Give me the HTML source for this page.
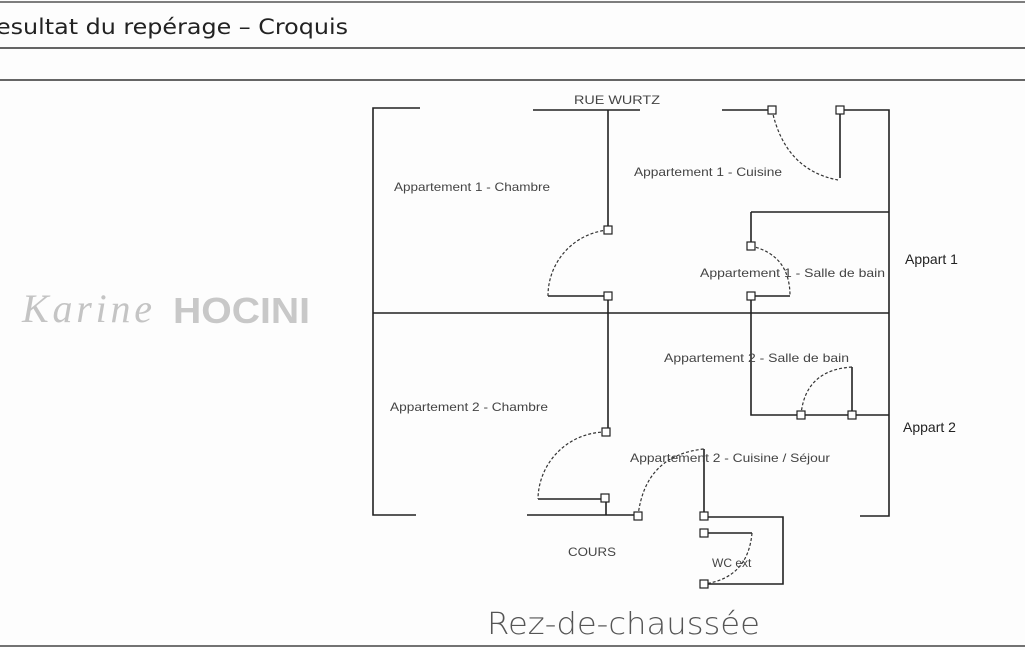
<!DOCTYPE html>
<html><head><meta charset="utf-8"><style>
html,body{margin:0;padding:0;background:#fff;}
svg{display:block;}
</style></head><body>
<svg width="1025" height="650" viewBox="0 0 1025 650" xmlns="http://www.w3.org/2000/svg" font-family="Liberation Sans, sans-serif">
<rect width="1025" height="650" fill="#fdfdfd"/>
<line x1="0" y1="2" x2="1025" y2="2" stroke="#555" stroke-width="1.5"/>
<text x="-4" y="34" font-family="DejaVu Sans, sans-serif" font-size="21" fill="#222" textLength="352" lengthAdjust="spacingAndGlyphs">esultat du repérage – Croquis</text>
<line x1="0" y1="48" x2="1025" y2="48" stroke="#333" stroke-width="1.5"/>
<line x1="0" y1="80" x2="1025" y2="80" stroke="#333" stroke-width="1.5"/>
<line x1="0" y1="646" x2="1025" y2="646" stroke="#444" stroke-width="1.5"/>
<text x="22" y="322" font-family="Liberation Serif, serif" font-style="italic" font-size="40" fill="#c4c4c4" textLength="130">Karine</text>
<text x="173" y="323" font-size="36" font-weight="bold" fill="#c8c8c8" textLength="137" lengthAdjust="spacingAndGlyphs">HOCINI</text>
<g stroke="#222" stroke-width="1.6" fill="none">
<path d="M420 108H373V515H416"/>
<path d="M533 110H640"/>
<path d="M608 110V230"/>
<path d="M722 110H770"/>
<path d="M840 110H889V516H860"/>
<path d="M840 110V178"/>
<path d="M373 313H889"/>
<path d="M751 212H889"/>
<path d="M751 212V245"/>
<path d="M751 296H790"/>
<path d="M548 296H608"/>
<path d="M608 296V432"/>
<path d="M751 296V415H889"/>
<path d="M852 367V415"/>
<path d="M538 499H606V515"/>
<path d="M527 515H638"/>
<path d="M704 449V517H783V584H704"/>
<path d="M704 533H752"/>
</g>
<g stroke="#333" stroke-width="1.2" fill="none" stroke-dasharray="3,2">
<path d="M772 110Q785 170 838 180"/>
<path d="M608 230A66 66 0 0 0 548 296"/>
<path d="M751 246Q790 255 790 296"/>
<path d="M852 367Q805 370 801 415"/>
<path d="M606 432A68 68 0 0 0 538 499"/>
<path d="M638 516Q645 455 704 449"/>
<path d="M752 533Q748 578 704 584"/>
</g>
<g stroke="#222" stroke-width="1.2" fill="#fff">
<rect x="768" y="106" width="8" height="8"/>
<rect x="836" y="106" width="8" height="8"/>
<rect x="604" y="226" width="8" height="8"/>
<rect x="604" y="292" width="8" height="8"/>
<rect x="747" y="242" width="8" height="8"/>
<rect x="747" y="292" width="8" height="8"/>
<rect x="797" y="411" width="8" height="8"/>
<rect x="848" y="411" width="8" height="8"/>
<rect x="602" y="428" width="8" height="8"/>
<rect x="601" y="494" width="8" height="8"/>
<rect x="634" y="512" width="8" height="8"/>
<rect x="700" y="512" width="8" height="8"/>
<rect x="700" y="529" width="8" height="8"/>
<rect x="700" y="580" width="8" height="8"/>
</g>
<g font-size="12" fill="#444" lengthAdjust="spacingAndGlyphs">
<text x="574" y="104" textLength="86" lengthAdjust="spacingAndGlyphs">RUE WURTZ</text>
<text x="394" y="191" textLength="156" lengthAdjust="spacingAndGlyphs">Appartement 1 - Chambre</text>
<text x="634" y="176" textLength="148" lengthAdjust="spacingAndGlyphs">Appartement 1 - Cuisine</text>
<text x="700" y="277" textLength="185" lengthAdjust="spacingAndGlyphs">Appartement 1 - Salle de bain</text>
<text x="664" y="362" textLength="185" lengthAdjust="spacingAndGlyphs">Appartement 2 - Salle de bain</text>
<text x="390" y="411" textLength="158" lengthAdjust="spacingAndGlyphs">Appartement 2 - Chambre</text>
<text x="630" y="462" textLength="200" lengthAdjust="spacingAndGlyphs">Appartement 2 - Cuisine / Séjour</text>
<text x="568" y="556" textLength="48" lengthAdjust="spacingAndGlyphs">COURS</text>
<text x="712" y="567">WC ext</text>
</g>
<text x="905" y="264" font-size="14" fill="#222">Appart 1</text>
<text x="903" y="432" font-size="14" fill="#222">Appart 2</text>
<text x="487" y="634" font-size="30" fill="#555" font-family="DejaVu Sans, sans-serif" font-weight="300" textLength="273" lengthAdjust="spacingAndGlyphs">Rez-de-chaussée</text>
</svg>
</body></html>
